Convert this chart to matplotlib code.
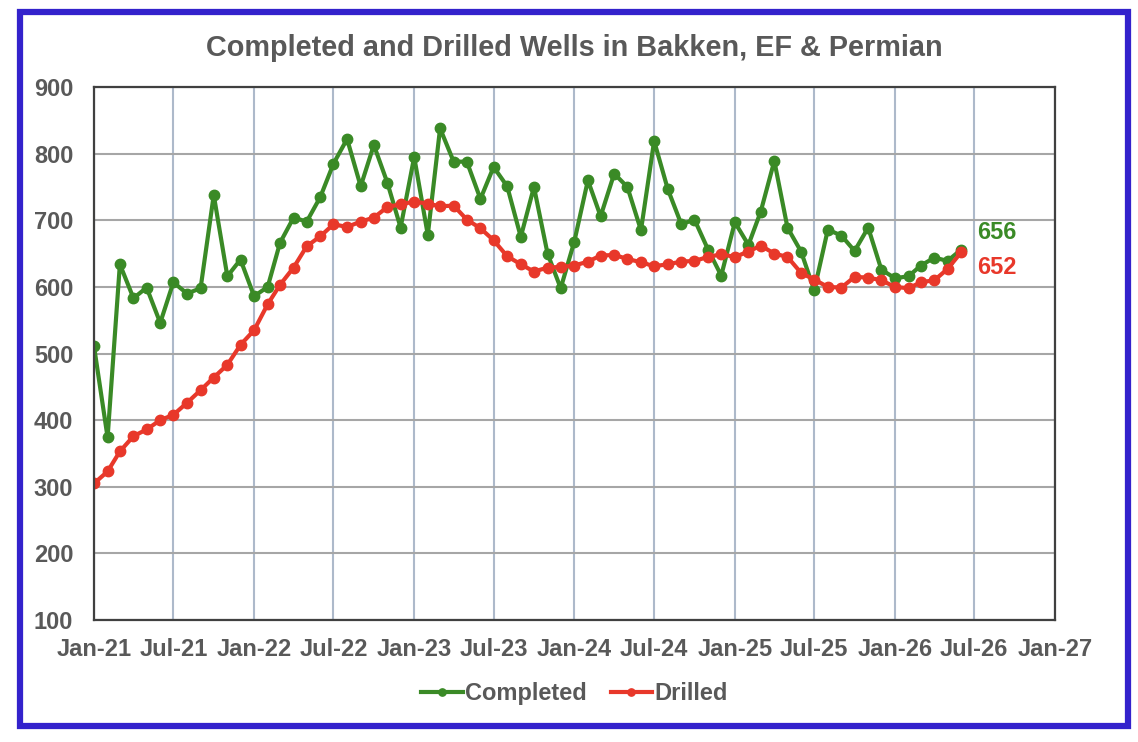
import matplotlib
matplotlib.use("Agg")
import matplotlib.pyplot as plt
import matplotlib.dates as mdates
from matplotlib.patches import Rectangle
import pandas as pd

plt.rcParams['font.family'] = ['Liberation Sans', 'DejaVu Sans']
plt.rcParams['font.weight'] = 'bold'

# monthly data, Jan-21 .. Jun-26
months = pd.date_range('2021-01-01', periods=66, freq='MS')

completed = [511, 374, 634, 583, 599, 546, 607, 590, 598, 738,
             616, 641, 586, 600, 666, 704, 698, 735, 785, 822,
             751, 813, 756, 689, 795, 678, 838, 788, 788, 732,
             780, 751, 675, 750, 650, 598, 668, 760, 706, 770,
             750, 685, 819, 747, 694, 701, 656, 617, 697, 663,
             713, 789, 689, 653, 595, 686, 677, 654, 689, 626,
             613, 616, 632, 644, 639, 656]

drilled = [305, 323, 353, 376, 386, 400, 408, 426, 445, 464,
           483, 513, 535, 574, 603, 629, 661, 676, 694, 690,
           698, 704, 720, 724, 728, 725, 721, 722, 701, 688,
           670, 646, 634, 623, 629, 630, 632, 638, 647, 648,
           642, 637, 631, 634, 638, 639, 645, 649, 645, 653,
           662, 650, 645, 621, 611, 600, 599, 615, 614, 610,
           600, 598, 607, 610, 627, 652]

green = '#3A8A26'
red = '#E8382A'
grey = '#595959'

fig = plt.figure(figsize=(11.38, 7.42), dpi=100)
ax = fig.add_axes([0.0826, 0.1644, 0.8445, 0.7183])

ax.plot(months, completed, color=green, lw=3, marker='o', ms=7.5, label='Completed')
ax.plot(months, drilled, color=red, lw=3, marker='o', ms=7.5, label='Drilled')

ax.set_xlim(pd.Timestamp('2021-01-01'), pd.Timestamp('2027-01-01'))
ax.set_ylim(100, 900)
ax.set_yticks(range(100, 901, 100))
ax.xaxis.set_major_locator(mdates.MonthLocator(bymonth=[1, 7]))
ax.xaxis.set_major_formatter(mdates.DateFormatter('%b-%y'))

ax.grid(axis='y', color='#A6A6A6', lw=1.5)
ax.grid(axis='x', color='#ADB9CA', lw=1.5)
ax.set_axisbelow(True)
for s in ax.spines.values():
    s.set_color('#404040')
    s.set_linewidth(1.6)

ax.tick_params(axis='both', length=0, labelsize=17, labelcolor=grey)
ax.tick_params(axis='x', pad=13)
ax.tick_params(axis='y', pad=15)

ax.set_title('Completed and Drilled Wells in Bakken, EF & Permian',
             fontsize=20.8, color=grey, fontweight='bold', pad=22)

# end-of-series labels
ax.annotate(str(completed[-1]), (months[-1], completed[-1]), xytext=(11.5, 12),
            textcoords='offset points', color=green, fontsize=17,
            fontweight='bold', va='center', ha='left')
ax.annotate(str(drilled[-1]), (months[-1], drilled[-1]), xytext=(11.5, -11),
            textcoords='offset points', color=red, fontsize=17,
            fontweight='bold', va='center', ha='left')

leg = ax.legend(loc='center', bbox_to_anchor=(0.5, -0.1375), ncol=2, frameon=False,
                fontsize=17, markerscale=0.7, handlelength=1.75,
                handletextpad=0.1, columnspacing=1.0)
for t in leg.get_texts():
    t.set_color(grey)

fig.patches.append(Rectangle((0.0176, 0.0216), 0.9736, 0.962, transform=fig.transFigure,
                             fill=False, edgecolor='#3322CC', lw=4.5))

fig.savefig('out.png', dpi=100)
